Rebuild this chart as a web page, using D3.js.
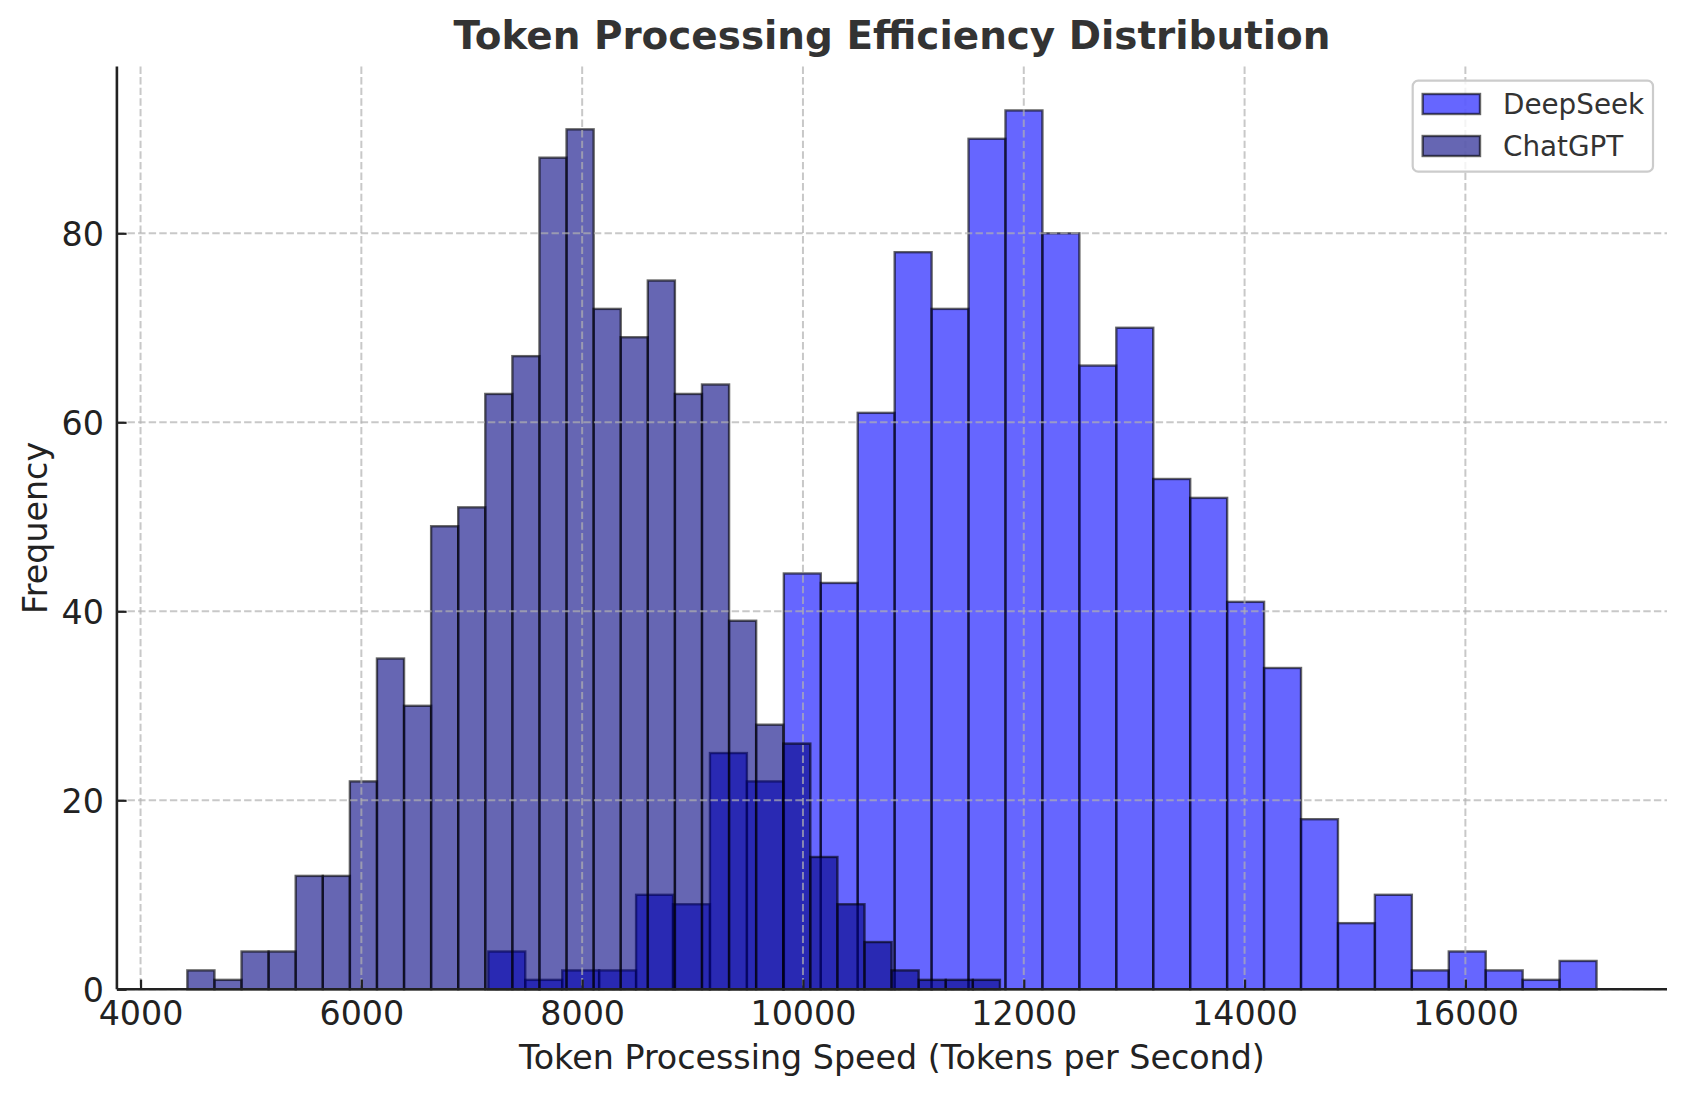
<!DOCTYPE html>
<html>
<head>
<meta charset="utf-8">
<script src="https://cdn.jsdelivr.net/npm/d3@7"></script>
<style>
  html, body { margin: 0; padding: 0; background: #fff; }
  svg { display: block; }
  text { font-family: "DejaVu Sans", sans-serif; }
</style>
</head>
<body>
<svg id="chart" width="1686" height="1097"></svg>
<script>
// ---- Data ----
const seriesNames = ["DeepSeek", "ChatGPT"];
const deepseekRange = [7150, 17188];   // min / max of DeepSeek samples (bin span)
const chatgptRange = [4424, 11784];    // min / max of ChatGPT samples (bin span)
const deepseekCounts = [4, 1, 2, 2, 10, 9, 25, 22, 44, 43, 61, 78, 72, 90, 93, 80, 66, 70, 54, 52, 41, 34, 18, 7, 10, 2, 4, 2, 1, 3];
const chatgptCounts = [2, 1, 4, 4, 12, 12, 22, 35, 30, 49, 51, 63, 67, 88, 91, 72, 69, 75, 63, 64, 39, 28, 26, 14, 9, 5, 2, 1, 1, 1];
const xTicks = [4000, 6000, 8000, 10000, 12000, 14000, 16000];
const yTicks = [0, 20, 40, 60, 80];

// ---- Layout ----
const W = 1686, H = 1097;
const plot = { left: 116.9, right: 1667, top: 66.5, bottom: 989.3 };
const svg = d3.select("#chart");

function bins(range, counts) {
  const n = counts.length;
  const w = (range[1] - range[0]) / n;
  return counts.map((c, i) => ({ x0: range[0] + i * w, x1: range[0] + (i + 1) * w, count: c }));
}
const dsBins = bins(deepseekRange, deepseekCounts);
const cgBins = bins(chatgptRange, chatgptCounts);

const dataMin = Math.min(deepseekRange[0], chatgptRange[0]);
const dataMax = Math.max(deepseekRange[1], chatgptRange[1]);
const pad = (dataMax - dataMin) * 0.05;
const x = d3.scaleLinear().domain([dataMin - pad, dataMax + pad]).range([plot.left, plot.right]);
const yMax = d3.max(deepseekCounts.concat(chatgptCounts)) * 1.05;
const y = d3.scaleLinear().domain([0, yMax]).range([plot.bottom, plot.top]);

const colors = { DeepSeek: "#0000ff", ChatGPT: "#000080" };

// ---- Bars ----
function drawBars(data, color, cls) {
  svg.append("g").attr("class", cls)
    .selectAll("rect").data(data).enter().append("rect")
    .attr("x", d => x(d.x0))
    .attr("y", d => y(d.count))
    .attr("width", d => x(d.x1) - x(d.x0))
    .attr("height", d => y(0) - y(d.count))
    .attr("fill", color).attr("fill-opacity", 0.6)
    .attr("stroke", "#000").attr("stroke-opacity", 0.6)
    .attr("stroke-width", 2.4);
}
drawBars(dsBins, colors.DeepSeek, "ds");
drawBars(cgBins, colors.ChatGPT, "cg");

// ---- Grid (above patches, like matplotlib) ----
const grid = svg.append("g").attr("class", "grid");
grid.selectAll("line.gx").data(xTicks).enter().append("line")
  .attr("x1", d => x(d)).attr("x2", d => x(d))
  .attr("y1", plot.top).attr("y2", plot.bottom)
  .attr("stroke", "#b0b0b0").attr("stroke-opacity", 0.7)
  .attr("stroke-width", 2).attr("stroke-dasharray", "7.4,3.2");
grid.selectAll("line.gy").data(yTicks).enter().append("line")
  .attr("x1", plot.left).attr("x2", plot.right)
  .attr("y1", d => y(d)).attr("y2", d => y(d))
  .attr("stroke", "#b0b0b0").attr("stroke-opacity", 0.7)
  .attr("stroke-width", 2).attr("stroke-dasharray", "7.4,3.2");

// ---- Axes ----
const xAxis = d3.axisBottom(x).tickValues(xTicks).tickFormat(d3.format("d"))
  .tickSizeInner(-9.7).tickSizeOuter(0).tickPadding(12);
const yAxis = d3.axisLeft(y).tickValues(yTicks).tickFormat(d3.format("d"))
  .tickSizeInner(-9.7).tickSizeOuter(0).tickPadding(13);

const gx = svg.append("g").attr("transform", `translate(0,${plot.bottom})`).call(xAxis);
const gy = svg.append("g").attr("transform", `translate(${plot.left},0)`).call(yAxis);
[gx, gy].forEach(g => {
  g.select(".domain").attr("stroke", "#222").attr("stroke-width", 2.6);
  g.selectAll(".tick line").attr("stroke", "#222").attr("stroke-width", 2.2);
  g.selectAll(".tick text").attr("fill", "#222")
    .style("font-family", "'DejaVu Sans', sans-serif").style("font-size", "33.3px");
});
gx.selectAll(".tick text").attr("dy", "0.72em");
gy.selectAll(".tick text").attr("dy", "0.36em");
gx.select(".domain").attr("d", `M${plot.left},0H${plot.right}`);
gy.select(".domain").attr("d", `M0,${plot.top}V${plot.bottom}`);

// ---- Labels ----
svg.append("text")
  .attr("x", (plot.left + plot.right) / 2).attr("y", 49)
  .attr("text-anchor", "middle")
  .attr("font-weight", "bold").attr("font-size", "38.9px").attr("fill", "#333")
  .text("Token Processing Efficiency Distribution");

svg.append("text")
  .attr("x", (plot.left + plot.right) / 2).attr("y", 1069)
  .attr("text-anchor", "middle")
  .attr("font-size", "33.3px").attr("fill", "#222")
  .text("Token Processing Speed (Tokens per Second)");

svg.append("text")
  .attr("transform", `translate(46.7,${(plot.top + plot.bottom) / 2}) rotate(-90)`)
  .attr("text-anchor", "middle")
  .attr("font-size", "33.3px").attr("fill", "#222")
  .text("Frequency");

// ---- Legend ----
const lg = svg.append("g").attr("class", "legend");
lg.append("rect")
  .attr("x", 1412.7).attr("y", 80.7).attr("width", 1653 - 1412.7).attr("height", 171.7 - 80.7)
  .attr("rx", 5.5).attr("ry", 5.5)
  .attr("fill", "#fff").attr("fill-opacity", 0.8)
  .attr("stroke", "#cccccc").attr("stroke-width", 2.2);
seriesNames.forEach((name, i) => {
  const yy = 94 + i * 42;
  lg.append("rect")
    .attr("x", 1422.7).attr("y", yy).attr("width", 57.3).attr("height", 20)
    .attr("fill", colors[name]).attr("fill-opacity", 0.6)
    .attr("stroke", "#000").attr("stroke-opacity", 0.6).attr("stroke-width", 2.4);
  lg.append("text")
    .attr("x", 1503).attr("y", yy + 20.3)
    .attr("font-size", "27.8px").attr("fill", "#333")
    .text(name);
});
</script>
</body>
</html>
